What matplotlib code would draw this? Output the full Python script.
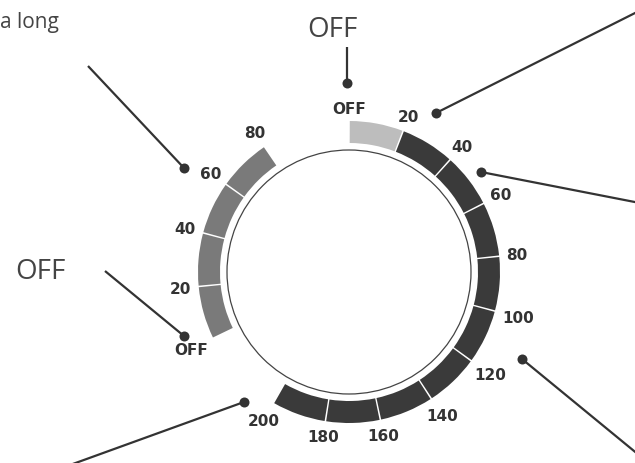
"""
Oven-timer style dial diagram: two segmented scales around a thin ring,
with leader lines pointing at the scale marks.
"""

import math

import matplotlib
matplotlib.use("Agg")
import matplotlib.pyplot as plt
from matplotlib.patches import Circle, Wedge

W, H = 635, 463

# ── Scale data (labels sit on the segment boundaries) ─────────────────────────
right_labels = ["OFF", "20", "40", "60", "80", "100",
                "120", "140", "160", "180", "200"]
right_colors = ["#bdbdbd"] + ["#3a3a3a"] * 9

left_labels = ["OFF", "20", "40", "60", "80"]
left_colors = ["#7a7a7a"] * 4

callout_texts = ["a long", "OFF", "OFF"]

# ── Geometry (pixels, angles clockwise from 12 o'clock) ───────────────────────
CX, CY = 349, H - 272
R_THIN = 122
R_OUT, R_IN = 151, 129
RIGHT_START, RIGHT_STEP = 0.0, 21.0
LEFT_START, LEFT_STEP = -116.0, 20.5
GAP = 0.3           # half gap between segments, degrees
LABEL_R0 = 158      # inner edge of label boxes
LABEL_FS = 11


def px(x, y):
    """Image pixel coords (y down) -> data coords (y up)."""
    return x, H - y


def polar(a, r):
    th = math.radians(90 - a)
    return CX + r * math.cos(th), CY + r * math.sin(th)


fig = plt.figure(figsize=(W / 100, H / 100), dpi=100)
ax = fig.add_axes([0, 0, 1, 1])
ax.set_xlim(0, W)
ax.set_ylim(0, H)
ax.axis("off")
renderer = fig.canvas.get_renderer()


def draw_scale(labels, colors, start, step):
    for i, col in enumerate(colors):
        a0 = start + i * step + GAP
        a1 = start + (i + 1) * step - GAP
        ax.add_patch(Wedge((CX, CY), R_OUT, 90 - a1, 90 - a0,
                           width=R_OUT - R_IN, facecolor=col,
                           edgecolor="none"))
    cap = 0.73 * LABEL_FS * 100 / 72
    for i, lab in enumerate(labels):
        a = start + i * step
        t = ax.text(0, 0, lab, fontsize=LABEL_FS, fontweight="bold",
                    family="DejaVu Sans", color="#333333",
                    ha="center", va="baseline")
        w = t.get_window_extent(renderer).width
        ext = (w / 2) * abs(math.sin(math.radians(a))) \
            + (cap / 2) * abs(math.cos(math.radians(a)))
        x, y = polar(a, LABEL_R0 + ext)
        t.set_position((x, y - cap / 2))


draw_scale(right_labels, right_colors, RIGHT_START, RIGHT_STEP)
draw_scale(left_labels, left_colors, LEFT_START, LEFT_STEP)

ax.add_patch(Circle((CX, CY), R_THIN, facecolor="white",
                    edgecolor="#444444", linewidth=0.9))

# ── Leader lines: (dot, far end) in image pixels ──────────────────────────────
leaders = [
    ((347, 83), (347, 47)),
    ((436, 113), (645, 8)),
    ((481, 172), (645, 204)),
    ((522, 359), (645, 460)),
    ((244, 402), (70, 465)),
    ((184, 336), (105, 271)),
    ((184, 168), (88, 66)),
]
for dot, end in leaders:
    x0, y0 = px(*dot)
    x1, y1 = px(*end)
    ax.plot([x0, x1], [y0, y1], color="#333333", lw=1.6,
            solid_capstyle="butt")
    ax.plot(x0, y0, "o", color="#333333", ms=7.2, mec="none")

# ── Callout text ──────────────────────────────────────────────────────────────
ax.text(*px(59, 28), callout_texts[0], fontsize=15, family="Open Sans",
        color="#444444", ha="right", va="baseline")
ax.text(*px(332, 37), callout_texts[1], fontsize=20, family="Open Sans",
        color="#444444", ha="center", va="baseline")
ax.text(*px(40, 279), callout_texts[2], fontsize=20, family="Open Sans",
        color="#444444", ha="center", va="baseline")

fig.savefig("out.png", dpi=100)
plt.close(fig)
